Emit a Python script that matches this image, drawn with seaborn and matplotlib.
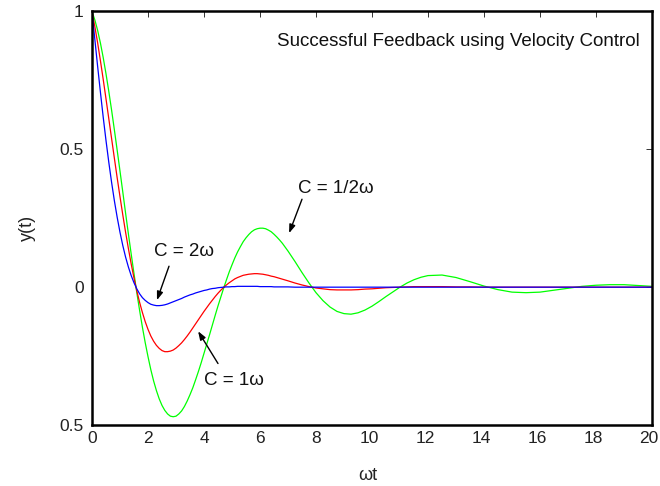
import numpy as np
import matplotlib
matplotlib.use("Agg")
import matplotlib.pyplot as plt
import matplotlib.transforms as mtransforms
import seaborn as sns

# sample times (ωt)
t = [0, 0.1, 0.2, 0.3, 0.4, 0.5, 0.6, 0.7, 0.8, 0.9,
     1, 1.1, 1.2, 1.3, 1.4, 1.5, 1.6, 1.7, 1.8, 1.9,
     2, 2.1, 2.2, 2.3, 2.4, 2.5, 2.6, 2.7, 2.8, 2.9,
     3, 3.1, 3.2, 3.3, 3.4, 3.5, 3.6, 3.7, 3.8, 3.9,
     4, 4.1, 4.2, 4.3, 4.4, 4.5, 4.6, 4.7, 4.8, 4.9,
     5, 5.1, 5.2, 5.3, 5.4, 5.5, 5.6, 5.7, 5.8, 5.9,
     6, 6.1, 6.2, 6.3, 6.4, 6.5, 6.6, 6.7, 6.8, 6.9,
     7, 7.25, 7.5, 7.75, 8, 8.25, 8.5, 8.75, 9, 9.25,
     9.5, 9.75, 10, 10.25, 10.5, 10.75, 11, 11.25, 11.5, 11.75,
     12, 12.5, 13, 13.5, 14, 14.5, 15, 15.5, 16, 16.5,
     17, 17.5, 18, 18.5, 19, 19.5, 20]

# response for C = 1/2ω
y_half = [1.000, 0.970, 0.932, 0.886, 0.833, 0.774, 0.710, 0.642, 0.570, 0.496,
          0.421, 0.345, 0.268, 0.193, 0.120, 0.049, -0.020, -0.084, -0.145, -0.201,
          -0.252, -0.299, -0.340, -0.375, -0.405, -0.429, -0.447, -0.460, -0.468, -0.470,
          -0.468, -0.460, -0.449, -0.433, -0.413, -0.390, -0.365, -0.336, -0.306, -0.274,
          -0.240, -0.206, -0.172, -0.137, -0.102, -0.068, -0.036, -0.004, 0.026, 0.055,
          0.081, 0.106, 0.128, 0.147, 0.165, 0.179, 0.191, 0.201, 0.208, 0.212,
          0.214, 0.214, 0.212, 0.207, 0.201, 0.192, 0.182, 0.171, 0.159, 0.145,
          0.131, 0.093, 0.053, 0.015, -0.020, -0.049, -0.072, -0.088, -0.096, -0.098,
          -0.093, -0.083, -0.069, -0.052, -0.034, -0.017, 0.000, 0.015, 0.027, 0.036,
          0.042, 0.044, 0.035, 0.020, 0.004, -0.009, -0.018, -0.020, -0.018, -0.011,
          -0.004, 0.003, 0.007, 0.009, 0.009, 0.006, 0.003]

# response for C = 1ω
y_one = [1.000, 0.946, 0.887, 0.822, 0.754, 0.683, 0.611, 0.539, 0.467, 0.396,
         0.328, 0.262, 0.199, 0.140, 0.084, 0.033, -0.013, -0.055, -0.092, -0.125,
         -0.153, -0.177, -0.196, -0.211, -0.222, -0.230, -0.234, -0.234, -0.232, -0.228,
         -0.221, -0.212, -0.202, -0.190, -0.177, -0.163, -0.148, -0.133, -0.118, -0.103,
         -0.088, -0.074, -0.060, -0.047, -0.034, -0.022, -0.011, -0.001, 0.008, 0.016,
         0.023, 0.030, 0.035, 0.039, 0.043, 0.045, 0.047, 0.048, 0.049, 0.049,
         0.048, 0.047, 0.045, 0.043, 0.040, 0.038, 0.035, 0.032, 0.029, 0.026,
         0.023, 0.015, 0.008, 0.002, -0.003, -0.006, -0.009, -0.010, -0.010, -0.010,
         -0.009, -0.007, -0.006, -0.004, -0.002, -0.001, 0.000, 0.001, 0.002, 0.002,
         0.002, 0.002, 0.001, 0.001, 0.000, 0.000, 0.000, 0.000, 0.000, 0.000,
         0.000, 0.000, 0.000, 0.000, 0.000, 0.000, 0.000]

# response for C = 2ω
y_two = [1.000, 0.900, 0.802, 0.708, 0.617, 0.532, 0.453, 0.380, 0.313, 0.253,
         0.199, 0.151, 0.109, 0.073, 0.042, 0.016, -0.006, -0.024, -0.038, -0.048,
         -0.056, -0.062, -0.065, -0.067, -0.067, -0.066, -0.064, -0.061, -0.057, -0.053,
         -0.049, -0.045, -0.041, -0.036, -0.032, -0.028, -0.025, -0.021, -0.018, -0.015,
         -0.012, -0.010, -0.007, -0.005, -0.004, -0.002, -0.001, 0.000, 0.001, 0.001,
         0.002, 0.002, 0.003, 0.003, 0.003, 0.003, 0.003, 0.003, 0.003, 0.003,
         0.002, 0.002, 0.002, 0.002, 0.002, 0.001, 0.001, 0.001, 0.001, 0.001,
         0.001, 0.000, 0.000, 0.000, 0.000, 0.000, 0.000, 0.000, 0.000, 0.000,
         0.000, 0.000, 0.000, 0.000, 0.000, 0.000, 0.000, 0.000, 0.000, 0.000,
         0.000, 0.000, 0.000, 0.000, 0.000, 0.000, 0.000, 0.000, 0.000, 0.000,
         0.000, 0.000, 0.000, 0.000, 0.000, 0.000, 0.000]

x_ticks = [0, 2, 4, 6, 8, 10, 12, 14, 16, 18, 20]
y_ticks = [-0.5, 0, 0.5, 1]
y_tick_labels = ["0.5", "0", "0.5", "1"]

curve_labels = ["C = 1/2ω", "C = 1ω", "C = 2ω"]
title = "Successful Feedback using Velocity Control"

sns.set_theme(style="white")
plt.rcParams["font.family"] = ["Liberation Sans", "DejaVu Sans"]

fig = plt.figure(figsize=(6.6, 4.86), dpi=100)
ax = fig.add_axes([92 / 660, 1 - 425 / 486, 560 / 660, 413.5 / 486])

for y, c in [(y_half, "#00ff00"), (y_one, "#ff0000"), (y_two, "#0000ff")]:
    sns.lineplot(x=t, y=y, color=c, lw=0.9, ax=ax)

ax.set_xlim(0, 20)
ax.set_ylim(-0.5, 1)
ax.set_xticks(x_ticks)
ax.set_yticks(y_ticks)
ax.set_yticklabels(y_tick_labels)
ax.tick_params(direction="in", length=4, width=0.7, color="#333333", top=True, right=True,
               labelsize=12.5, labelcolor="#222222")
ax.tick_params(axis="x", pad=4)
ax.tick_params(axis="y", pad=6)
# two-digit labels sit a little left of their ticks
shift = mtransforms.ScaledTranslation(-3 / 100, 0, fig.dpi_scale_trans)
for lab, v in zip(ax.get_xticklabels(), x_ticks):
    if v >= 10:
        lab.set_transform(lab.get_transform() + shift)
for s in ax.spines.values():
    s.set_linewidth(1.8)
    s.set_color("black")

ax.set_xlabel("ωt", fontsize=13, color="#222222", va="baseline")
ax.xaxis.set_label_coords(0.492, -0.133)
ax.set_ylabel("y(t)", fontsize=13, color="#222222", va="center")
ax.yaxis.set_label_coords(-0.116, 0.476)

ax.text(19.57, 0.874, title, ha="right", va="baseline", fontsize=13.5, color="#111111")

arrow = dict(arrowstyle="-|>,head_length=0.5,head_width=0.18", color="black", lw=1,
             shrinkA=0, shrinkB=0, mutation_scale=10)
ax.text(8.71, 0.341, curve_labels[0], ha="center", va="baseline", fontsize=13.5, color="#111111")
ax.annotate("", xy=(7.04, 0.196), xytext=(7.5, 0.319), arrowprops=arrow)
ax.text(5.07, -0.355, curve_labels[1], ha="center", va="baseline", fontsize=13.5, color="#111111")
ax.annotate("", xy=(3.79, -0.16), xytext=(4.5, -0.277), arrowprops=arrow)
ax.text(3.29, 0.112, curve_labels[2], ha="center", va="baseline", fontsize=13.5, color="#111111")
ax.annotate("", xy=(2.32, -0.047), xytext=(2.75, 0.076), arrowprops=arrow)

fig.savefig("out.png", dpi=100)
